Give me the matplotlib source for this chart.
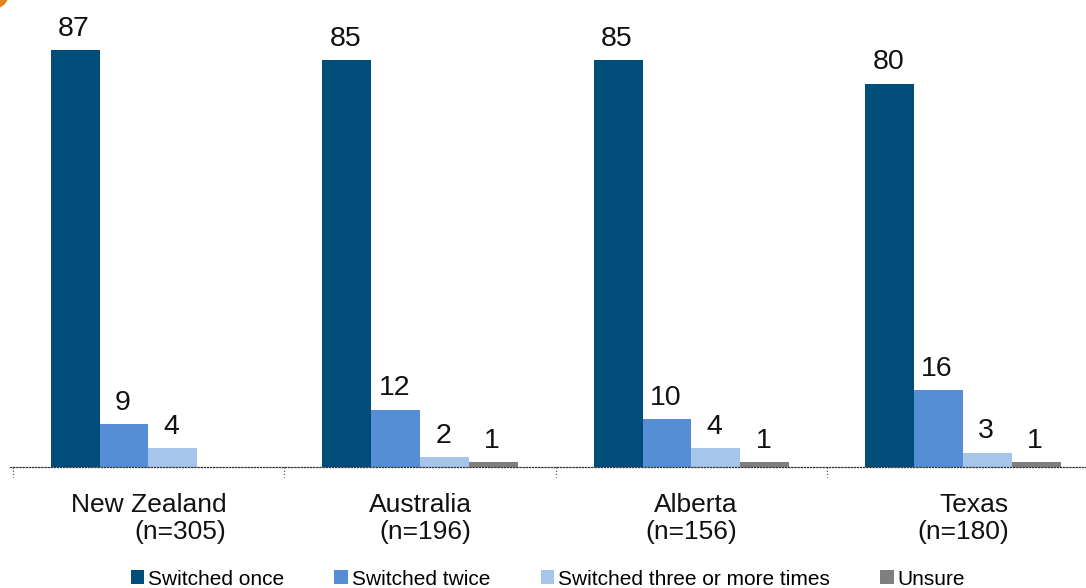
import numpy as np
import matplotlib
matplotlib.use('Agg')
import matplotlib.pyplot as plt
from matplotlib.patches import Circle
import matplotlib.transforms as mtransforms

plt.rcParams['font.family'] = ['Liberation Sans', 'DejaVu Sans']

regions = ['New Zealand', 'Australia', 'Alberta', 'Texas']
sample_n = [305, 196, 156, 180]
series = ['Switched once', 'Switched twice', 'Switched three or more times', 'Unsure']
once = [87, 85, 85, 80]
twice = [9, 12, 10, 16]
three_plus = [4, 2, 4, 3]
unsure = [None, 1, 1, 1]

colors = ['#004D7A', '#558ED5', '#A6C5EA', '#7F7F7F']

fig = plt.figure(figsize=(10.86, 5.88), dpi=100)
ax = fig.add_axes([10/1086, 121/588, 1 - 10/1086, 467/588])

x = np.arange(len(regions))
w = 0.18
for i, (name, vals) in enumerate(zip(series, [once, twice, three_plus, unsure])):
    xs = [xi + (i - 1.5) * w for xi, v in zip(x, vals) if v is not None]
    vs = [v for v in vals if v is not None]
    bars = ax.bar(xs, vs, width=w, color=colors[i], label=name, linewidth=0)
    for b, v in zip(bars, vs):
        ax.annotate(str(v), (b.get_x() + b.get_width() / 2, b.get_height()),
                    xytext=(-1, 6), textcoords='offset points',
                    ha='center', va='bottom', fontsize=20.5, color='#111111')

ax.set_xlim(-0.51, 3.453)
ax.set_ylim(0, 97.5)

for s in ['top', 'right', 'left']:
    ax.spines[s].set_visible(False)
ax.spines['bottom'].set_linestyle((0, (1, 1.5)))
ax.spines['bottom'].set_linewidth(0.9)
ax.spines['bottom'].set_color('#333333')
ax.set_yticks([])
ax.set_xticks([])

# dotted separators between groups
trans = mtransforms.blended_transform_factory(ax.transData, ax.transAxes)
for sep in x - 0.5:
    ax.plot([sep, sep], [0, -0.022], transform=trans, color='#555555',
            linestyle=(0, (1, 1.5)), linewidth=0.9, clip_on=False)

for xi, name, n in zip(x, regions, sample_n):
    ax.text(xi, -0.055, f'{name}\n(n={n})', transform=trans, ha='center', va='top',
            multialignment='right', fontsize=19, linespacing=1.2, color='#111111')

ax.legend(loc='center', bbox_to_anchor=(0.5, -0.24), ncol=4, frameon=False,
          fontsize=15, handlelength=0.65, handleheight=0.65, handletextpad=0.2,
          columnspacing=2.4, borderaxespad=0)

fig.patches.append(Circle((-6, 594), 14, transform=None, color='#E8821E', zorder=5))

fig.savefig('out.png', dpi=100)
